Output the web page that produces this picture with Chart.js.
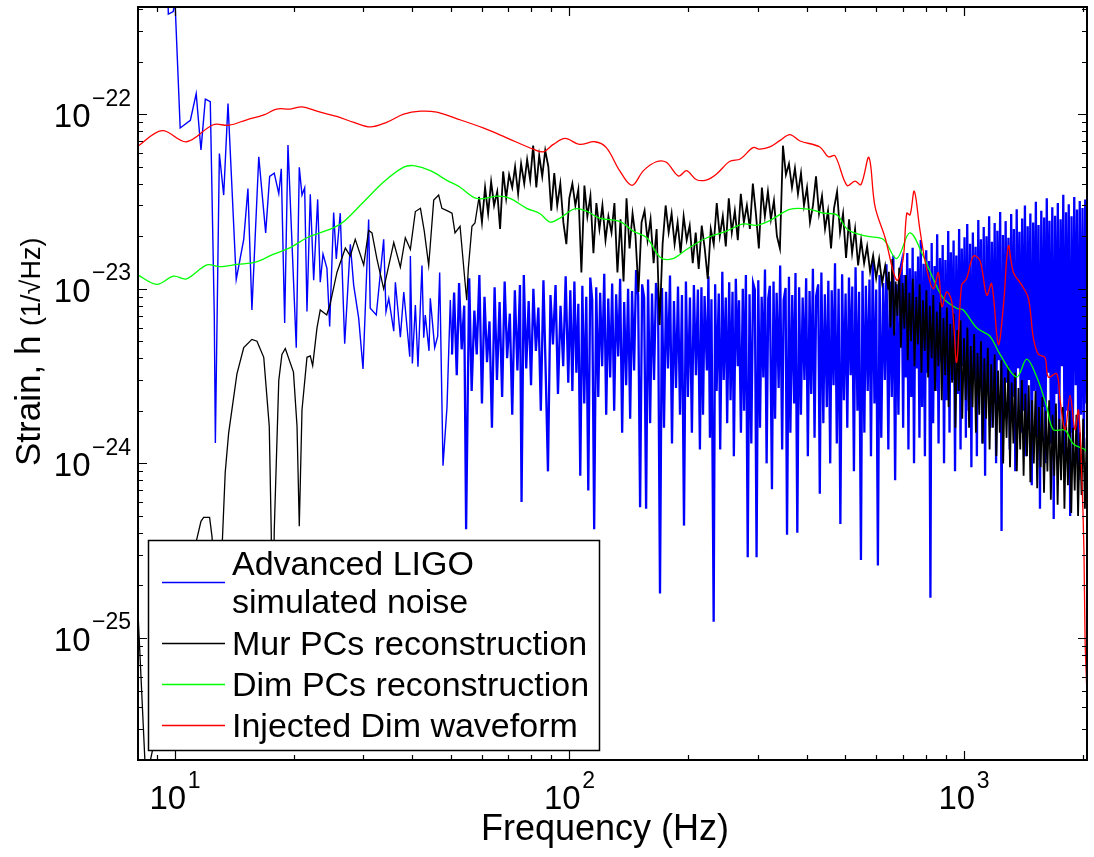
<!DOCTYPE html>
<html>
<head>
<meta charset="utf-8">
<title>Strain spectrum</title>
<script src="https://cdn.jsdelivr.net/npm/chart.js@4.4.1/dist/chart.umd.min.js"></script>
<style>
  body { margin: 0; background: #fff; }
  #wrap { width: 1094px; height: 857px; }
</style>
</head>
<body>
<div id="wrap"><canvas id="psd" width="1094" height="857"></canvas></div>
<script>
// ==========================================
// 1. DATA  (frequency in Hz, strain in units of 1e-24 / sqrt(Hz))
// ==========================================
const STRAIN_UNIT = 1e-24;
const X_MIN = 8.06, X_MAX = 2050;
const Y_MIN = 2.34e-26, Y_MAX = 4.11e-22;
const xTickExps = [1, 2, 3];
const yTickExps = [-25, -24, -23, -22];
const seriesNames = [
  ['Advanced LIGO', 'simulated noise'],
  ['Mur PCs reconstruction'],
  ['Dim PCs reconstruction'],
  ['Injected Dim waveform']
];

// Advanced LIGO simulated noise
const noisePts = [
  [8.0,700],[9.0,900],[9.55,800],[9.62,374],[9.90,387],[10.0,450],[10.31,83.4],[10.94,92.1],[11.32,131],[11.64,62.4],
  [11.94,122],[12.29,118],[12.58,7.09],[12.66,1.31],[12.96,59.5],[13.29,34.4],[13.63,115],[14.30,11.3],[14.94,19.2],[15.31,37.5],
  [15.67,7.57],[16.31,57.0],[16.98,20.9],[17.38,44.0],[17.85,45.9],[18.33,35.1],[18.60,48.6],[18.97,6.37],[19.34,66.6],[20.30,4.60],
  [20.66,49.6],[20.99,34.4],[21.32,37.9],[21.61,7.40],[22.03,34.8],[22.47,11.2],[23.00,32.5],[23.35,10.9],[23.73,15.8],[24.28,13.1],
  [24.67,6.09],[25.25,27.3],[25.64,14.8],[26.24,27.1],[26.93,4.85],[27.83,18.0],[28.38,10.5],[29.22,6.79],[29.97,3.47],[30.97,24.9],
  [31.26,7.73],[32.38,7.08],[33.81,19.2],[34.27,7.40],[34.83,8.81],[35.86,5.71],[36.20,10.9],[37.27,5.28],[38.02,9.59],[39.37,4.08],
  [39.51,15.4],[39.97,3.73],[40.68,8.07],[41.30,3.58],[42.28,13.6],[42.71,5.24],[43.10,7.08],[44.05,4.41],[44.38,8.81],[45.54,4.60],
  [46.34,5.35],[46.88,12.4],[47.8,0.97],[48.93,2.11],[49.88,8.61],[50.38,4.21],
  [51.0,9.5],[51.8,3.2],[52.5,10.8],[53.3,4.5],[54.1,8.0],[54.7,0.42],[55.7,11.5],[56.5,2.6],[57.4,7.5],[58.2,4.2],
  [59.1,12.0],[60.0,2.2],[60.9,9.0],[61.8,3.8],[62.7,6.5],[63.6,1.6],[64.6,10.2],[65.5,3.0],[66.5,8.4],[67.5,2.4],
  [68.5,11.0],[69.5,4.0],[70.6,7.2],[71.6,1.9],[72.7,9.8],[73.8,3.4],[74.9,10.5],[75.6,0.6],[76.6,12.0],[77.7,3.5],
  [78.8,8.5],[79.9,2.8],[81.0,10.0],[82.2,4.4],[83.4,7.8],[84.6,2.0],[85.9,11.2],[87.1,3.1],[88.2,0.9],[89.5,9.2],
  [90.8,4.8],[92.2,10.5],[93.5,2.5],[94.9,8.0],[96.4,3.6],[97.8,11.8],[99.3,2.9],
  [100.5,9.8],[101.7,2.6],[102.9,11.0],[104.1,3.3],[105.3,8.2],[106.5,0.85],[107.8,10.4],[109.0,2.2],[110.3,9.0],[111.6,0.7],
  [112.9,11.6],[114.2,8.6],[115.5,0.42],[116.9,10.2],[118.3,2.4],[119.6,9.5],[121.0,3.6],[122.5,12.2],[123.9,1.9],[125.4,8.8],
  [126.8,3.1],[128.3,10.7],[129.8,2.0],[131.3,9.3],[132.9,4.1],[134.4,11.4],[136.0,1.5],[137.6,8.4],[139.2,2.8],[140.8,10.0],
  [142.5,1.8],[144.1,9.7],[145.8,3.4],[147.5,12.8],[149.3,9.1],[151.0,0.56],[152.8,10.6],[154.6,8.9],[156.4,0.55],[158.2,11.3],
  [160.1,1.7],[161.9,9.4],[163.8,3.0],[165.7,10.8],[167.7,8.7],[169.6,0.18],[171.6,10.1],[173.6,1.6],[175.7,9.6],[177.7,3.5],
  [179.8,11.9],[181.9,1.3],[184.0,8.5],[186.2,2.7],[188.4,10.3],[190.6,1.9],[192.8,9.2],[195.1,0.44],[197.3,11.0],[199.6,2.4],
  [202.0,8.9],[204.3,1.5],[206.7,10.5],[209.2,3.2],[211.6,9.9],[214.1,1.2],
  [216,10.2],[218,1.9],[220,9.1],[223,3.4],[225,11.8],[227,1.4],[229,8.7],[232,0.124],[234,10.6],[236,2.6],
  [239,9.4],[241,1.2],[244,12.5],[246,3.0],[249,8.9],[251,1.7],[254,10.9],[256,2.3],[259,9.6],[261,1.1],
  [264,11.4],[267,3.6],[269,8.6],[272,1.5],[275,10.0],[277,2.0],[280,12.0],[283,0.29],[286,9.3],[289,1.3],
  [292,10.8],[295,9.9],[298,0.29],[301,11.2],[304,1.6],[307,9.0],[310,3.1],[313,12.9],[316,1.0],[319,8.8],
  [322,10.4],[326,0.71],[329,11.0],[332,1.8],[335,9.5],[339,2.7],[342,13.6],[346,1.2],[349,8.6],[353,10.1],
  [356,0.39],[360,11.7],[363,1.5],[367,9.2],[371,2.2],[374,12.3],[378,0.40],[382,10.2],[386,1.9],[390,8.9],
  [394,3.0],[398,11.5],[402,1.1],[406,9.7],[410,2.5],[414,13.0],[418,1.4],[422,9.1],[427,10.6],[431,0.67],
  [435,12.4],[440,1.7],[444,9.3],[449,2.1],[453,11.1],[458,1.0],[462,9.8],[467,2.8],[471,14.0],[476,1.3],
  [481,10.0],[486,0.45],[491,12.1],[496,2.3],[501,9.4],[506,1.6],[511,11.6],[516,3.2],[521,10.3],[526,0.9],
  [531,13.3],[537,2.0],[542,9.6],[548,0.28],[553,12.7],[559,1.5],[564,10.4],[570,2.6],[576,11.3],[581,1.1],
  [587,14.5],[593,2.2],[599,9.9],[605,0.26],[611,12.0],[617,1.4],[624,10.8],[630,3.0],[636,13.8],[643,1.2],
  [649,11.0],[656,2.4],[662,15.5],[669,0.8],[675,10.6],[682,1.9],[689,12.9],
  [695,14.2],[701,1.6],[706,12.0],[712,3.1],[718,16.0],[723,1.2],[729,13.1],[735,2.4],[741,17.2],[747,1.0],
  [753,12.6],[759,3.5],[765,15.3],[771,1.4],[777,19.0],[783,2.1],[790,13.9],[796,1.1],[802,16.6],[809,3.3],
  [815,14.4],[822,0.17],[828,18.3],[835,1.7],[842,13.5],[848,2.6],[855,20.5],[862,1.3],[869,15.0],[876,3.8],
  [883,17.8],[890,1.0],[897,14.6],[904,2.3],[912,21.4],[919,1.5],[926,16.2],[934,3.0],[941,18.9],[949,0.9],
  [956,15.5],[964,2.5],[972,22.0],[980,1.2],[987,17.0],[995,3.6],[1003,19.7],[1011,1.4],[1019,23.5],[1028,2.0],
  [1036,18.1],[1044,0.95],[1053,21.0],[1061,3.2],[1070,17.4],[1078,1.1],[1087,24.8],[1095,2.7],[1104,19.2],[1113,1.3],
  [1122,22.6],[1131,0.85],[1140,20.0],[1149,3.4],[1158,26.0],[1168,1.6],[1177,18.6],[1187,2.2],[1196,23.8],[1206,1.0],
  [1215,21.5],[1225,3.9],[1235,27.5],[1245,0.41],[1255,20.3],[1265,1.8],[1275,24.4],[1285,2.9],[1296,19.6],[1306,1.2],
  [1317,26.8],[1327,2.4],[1338,22.0],[1349,0.9],[1360,28.5],[1371,3.5],[1382,21.2],[1393,1.5],[1404,25.3],[1415,2.0],
  [1427,30.0],[1438,1.1],[1450,22.8],[1461,3.0],[1473,27.0],[1485,0.75],[1497,24.0],[1509,2.6],[1521,31.5],[1533,1.4],
  [1545,23.2],[1558,0.55],[1570,28.0],[1583,2.1],[1596,25.6],[1608,1.0],[1621,33.0],[1634,3.3],[1647,24.5],[1661,1.3],
  [1674,29.3],[1688,0.48],[1701,26.2],[1715,2.5],[1729,31.0],[1743,1.2],[1757,25.0],[1771,3.6],[1785,34.5],[1799,0.9],
  [1814,27.4],[1828,2.0],[1843,30.5],[1858,0.5],[1873,26.0],[1888,1.5],[1903,33.5],[1919,2.8],[1934,28.4],[1950,0.8],
  [1965,31.8],[1981,1.9],[1997,29.0],[2013,1.2],[2029,32.5],[2045,2.2]
];

// Mur PCs reconstruction
const murPts = [
  [8.0,0.20],[8.44,0.015],[9.0,0.03],[10.5,0.15],[11.3,0.35],[11.64,0.466],[11.82,0.49],[12.24,0.49],[12.41,0.383],[12.7,0.19],
  [13.15,0.31],[13.41,0.89],[13.68,1.49],[14.36,3.26],[14.94,4.60],[15.67,5.13],[16.14,5.01],[16.79,4.05],[17.34,1.63],[17.54,0.41],
  [17.7,0.05],[17.85,0.41],[18.33,2.99],[18.67,4.21],[19.04,4.55],[19.97,3.33],[20.39,1.63],[20.66,0.436],[20.99,2.02],[21.61,4.05],
  [22.03,4.13],[22.34,3.63],[22.91,5.97],[23.35,7.57],[24.25,7.08],[24.7,8.07],[25.74,12.4],[27.03,17.1],[27.83,15.4],[28.64,19.2],
  [30.09,13.7],[30.97,21.6],[31.58,20.9],[32.51,14.8],[33.81,10.0],[35.86,18.4],[37.27,13.3],[38.36,19.6],[39.51,16.8],[40.68,27.7],
  [41.9,28.9],[42.85,21.4],[43.97,13.6],[45.28,32.2],[46.6,34.4],[47.5,28.9],[48.93,28.0],[50.38,27.1],[51.27,20.9],[52.8,22.8],
  [54.36,10.9],[54.9,8.6],[55.4,13.0],[56.6,22.8],[57.6,23.8],
  [59.0,33.6],[60.0,24.0],[61.1,38.0],[62.2,27.0],[63.3,41.0],[64.4,30.0],[65.6,36.0],[66.7,22.0],[67.9,47.0],[69.1,33.0],
  [70.3,45.0],[71.6,38.0],[72.8,50.0],[74.1,35.0],[75.4,52.0],[76.8,40.0],[78.1,55.0],[79.5,42.0],[80.9,66.0],[82.4,38.0],
  [83.8,58.0],[85.3,44.0],[86.8,62.0],[88.4,50.0],[89.9,28.0],[91.5,46.0],[93.1,30.0],[94.8,40.0],[96.5,24.0],[98.2,18.0],
  [99.9,33.0],[101.7,40.0],[103.5,30.0],[105.3,37.0],[107.2,12.4],[109.1,39.0],[111.0,26.0],[113.0,34.0],[115.0,16.0],[117.0,31.0],
  [119.1,22.0],[121.2,30.0],[123.4,19.0],[125.5,26.0],[127.8,21.0],[130.0,31.0],[132.3,12.4],[134.7,25.0],[137.1,11.0],[139.5,33.0],
  [142.0,17.0],[144.5,27.0],[147.0,20.0],[149.6,9.6],[152.3,24.0],[155.0,28.0],[157.7,19.0],[160.5,25.0],[163.4,14.0],[166.3,22.0],
  [169.2,6.2],[172.2,18.0],[175.3,30.0],[178.4,21.0],[181.5,27.0],[184.7,18.0],[188.0,24.0],[191.3,16.0],[194.7,26.0],[198.2,19.0],
  [201.7,23.0],[205.3,14.0],[208.9,21.0],[212.6,13.0],[216.4,23.0],[220.2,17.0],[224.1,11.4],[228.1,22.0],[232.1,18.0],[236.2,31.0],
  [240.4,20.0],[244.7,26.0],[249.0,17.5],[253.4,33.0],[257.9,21.0],[262.5,28.0],[267.1,19.0],[271.8,35.0],[276.7,24.0],[281.6,30.0],
  [286.6,22.0],[291.6,40.0],[296.8,27.0],[302.0,17.0],[307.4,38.0],[312.8,26.0],[318.4,36.0],[324.0,25.0],[329.8,32.0],[335.6,20.0],
  [341.5,17.0],[347.6,66.0],[353.7,45.0],[360.0,52.0],[366.4,38.0],[372.8,49.0],[379.4,35.0],[386.2,46.0],[393.0,30.0],[400.0,38.0],
  [407.0,24.0],[414.2,30.0],[421.6,44.0],[429.0,27.0],[436.6,34.0],[444.4,22.0],[452.2,28.0],[460.2,17.0],[468.4,29.0],[476.7,36.0],
  [485.1,21.0],[493.7,27.0],[502.4,15.0],[511.3,25.0],[520.4,16.0],[529.6,22.0],[539.0,13.6],[548.5,19.0],[558.2,14.0],[568.1,17.5],
  [578.2,12.5],[588.4,15.5],[598.8,11.5],[609.4,14.8],[620.2,10.8],[631.2,13.5],[642.4,10.0],
  [645,12.5],[651,6.0],[658,14.8],[665,5.4],[671,11.0],[678,7.0],[685,13.2],[692,4.6],[699,10.8],[706,5.9],
  [713,12.0],[720,3.9],[727,9.5],[734,5.0],[742,11.4],[749,3.6],[757,9.0],[764,4.8],[772,10.6],[780,3.3],
  [787,8.6],[795,4.4],[803,9.8],[811,3.1],[819,8.0],[828,4.0],[836,9.2],[844,2.6],[853,7.4],[861,3.6],
  [870,8.4],[878,2.3],[887,6.8],[896,3.2],[905,7.8],[914,2.1],[923,6.3],[933,2.9],[942,7.2],[951,1.6],
  [961,5.8],[970,2.6],[980,6.6],[990,1.8],[1000,5.2],[1010,2.3],[1020,6.0],[1030,1.6],[1040,4.7],[1051,2.1],
  [1061,5.5],[1072,1.5],[1082,4.3],[1093,1.9],[1104,5.0],[1115,1.3],[1126,4.0],[1138,1.8],[1149,4.6],[1161,1.2],
  [1172,3.7],[1184,1.6],[1196,4.2],[1208,1.1],[1220,3.4],[1232,1.5],[1244,3.9],[1257,1.0],[1269,3.1],[1282,1.4],
  [1295,3.6],[1308,0.95],[1321,2.9],[1334,1.3],[1347,3.3],[1361,0.9],[1374,2.7],[1388,1.2],[1402,3.0],[1416,0.85],
  [1430,2.5],[1444,1.1],[1459,2.8],[1473,0.78],[1488,2.3],[1503,1.0],[1518,2.6],[1533,0.72],[1548,2.1],[1564,0.95],
  [1580,2.4],[1595,0.68],[1611,2.0],[1627,0.9],[1644,2.3],[1660,0.62],[1677,1.9],[1693,0.85],[1710,2.2],[1727,0.58],
  [1745,1.8],[1762,0.8],[1780,2.1],[1797,0.55],[1815,1.7],[1834,0.75],[1852,2.0],[1870,0.52],[1889,1.6],[1908,0.7],
  [1927,1.9],[1946,0.5],[1966,1.5],[1986,0.66],[2005,1.8],[2025,0.55],[2046,1.4]
];

// Dim PCs reconstruction
const dimPts = [
  [8.01,12.1],[9.0,10.6],[9.92,11.8],[10.7,11.4],[12.05,13.7],[13.0,13.4],[14.4,13.8],[16.0,14.2],[17.8,15.8],[19.6,17.2],
  [21.6,19.6],[23.3,20.9],[25.2,22.3],[26.8,24.3],[30.1,31.5],[33.8,40.9],[38.0,49.7],[40.3,50.7],[44.4,47.5],[48.9,41.8],
  [52.7,38.3],[58.2,32.9],[66.0,33.9],[70.7,32.9],[77.9,28.9],[84.2,26.9],[89.3,24.1],[94.6,25.4],[103,28.7],[111,27.7],
  [119,25.4],[134,24.3],[145,21.4],[157,19.6],[170,15.1],[183,14.9],[198,16.8],[223,19.6],[250,21.4],[276,23.5],
  [298,23.1],[322,24.6],[362,28.5],[407,28.5],[440,27.1],[476,26.5],[508,21.8],[567,20.0],[624,19.2],[675,14.9],
  [729,20.9],[788,15.4],[836,11.4],[887,8.81],[958,7.73],[996,7.56],[1077,5.97],[1163,5.35],[1233,4.22],[1360,3.12],
  [1442,3.95],[1529,3.12],[1621,2.11],[1684,1.56],[1804,1.55],[1893,1.29],[2027,1.20],[2048,1.15]
];

// Injected Dim waveform
const injPts = [
  [8.01,64.9],[9.27,80.5],[10.7,69.5],[12.5,87.0],[13.7,86.4],[15.2,92.9],[16.8,99],[18.1,107],[19.6,107],[21.0,110],
  [22.9,104],[25.7,97],[28.4,89.8],[31.3,84.5],[34.4,89.8],[38.0,100],[41.9,104],[46.1,102.6],[51.9,94.1],[60.4,83.4],
  [69.3,73.2],[81.0,63.0],[85.9,60.9],[91.0,67.1],[97.5,72.6],[106,67.1],[116,69.5],[124,64.3],[134,47.5],[144,39.1],
  [154,47.5],[166,53.4],[176,53.0],[189,44.2],[198,47.5],[210,42.1],[223,42.1],[236,45.5],[255,53.7],[271,55.4],
  [292,64.3],[304,63.0],[322,64.9],[342,70.8],[362,76.4],[384,70.2],[431,64.9],[453,57.0],[471,57.8],[505,39.1],
  [529,41.4],[548,39.5],[574,56.5],[595,29.5],[631,19.6],[675,11.2],[701,14.8],[716,27.1],[730,26.5],[748,36.2],
  [773,21.8],[804,13.0],[836,10.0],[861,12.4],[879,7.89],[904,9.59],[931,8.43],[958,3.79],[986,10.5],[1015,11.4],
  [1056,15.4],[1098,14.5],[1142,9.18],[1175,10.7],[1222,4.81],[1259,8.07],[1296,17.6],[1334,12.4],[1401,10.5],[1456,8.81],
  [1499,5.24],[1543,4.22],[1604,4.04],[1636,3.12],[1718,3.26],[1752,2.30],[1804,1.56],[1857,2.45],[1911,1.56],[1950,2.02],
  [1988,0.853],[2014,0.315],[2027,0.098],[2048,0.05]
];

// ==========================================
// 2. HELPERS
// ==========================================
const FONT = '"Liberation Sans", Arial, Helvetica, sans-serif';
const toPoints = pts => pts.map(p => ({ x: p[0], y: p[1] * STRAIN_UNIT }));
const expText = e => (e < 0 ? '\u2212' + Math.abs(e) : String(e));

function drawPower(ctx, exp, x, y, mode) {
  const big = '33px ' + FONT, small = '23px ' + FONT;
  ctx.font = big;  const w10 = ctx.measureText('10').width;
  ctx.font = small; const wExp = ctx.measureText(expText(exp)).width;
  const total = w10 + 1.5 + wExp;
  let left, base10, baseExp;
  if (mode === 'x') { left = x - total / 2; base10 = 809; baseExp = 788; }
  else { left = 131 - total; base10 = y + 13; baseExp = y - 8.5; }
  ctx.textAlign = 'left'; ctx.textBaseline = 'alphabetic';
  ctx.font = big;  ctx.fillText('10', left, base10);
  ctx.font = small; ctx.fillText(expText(exp), left + w10 + 1.5, baseExp);
}

// ==========================================
// 3. MATLAB-STYLE AXES + LEGEND PLUGIN
// ==========================================
const matlabAxes = {
  id: 'matlabAxes',
  afterDraw(chart) {
    const ctx = chart.ctx, a = chart.chartArea;
    const xs = chart.scales.x, ys = chart.scales.y;
    ctx.save();
    ctx.fillStyle = '#000';
    ctx.strokeStyle = '#000';

    // inward ticks on all four sides
    ctx.lineWidth = 1.2;
    ctx.beginPath();
    for (let e = 0; e <= 3; e++) {
      for (let k = 1; k <= 9; k++) {
        const v = k * Math.pow(10, e);
        if (v < X_MIN || v > X_MAX) continue;
        const px = Math.round(xs.getPixelForValue(v)) + 0.5;
        const len = k === 1 ? 9 : 5;
        ctx.moveTo(px, a.bottom); ctx.lineTo(px, a.bottom - len);
        ctx.moveTo(px, a.top); ctx.lineTo(px, a.top + len);
      }
    }
    for (let e = -26; e <= -22; e++) {
      for (let k = 1; k <= 9; k++) {
        const v = k * Math.pow(10, e);
        if (v < Y_MIN || v > Y_MAX) continue;
        const py = Math.round(ys.getPixelForValue(v)) + 0.5;
        const len = k === 1 ? 9 : 5;
        ctx.moveTo(a.left, py); ctx.lineTo(a.left + len, py);
        ctx.moveTo(a.right, py); ctx.lineTo(a.right - len, py);
      }
    }
    ctx.stroke();

    // box
    ctx.lineWidth = 2;
    ctx.strokeRect(a.left, a.top, a.right - a.left, a.bottom - a.top);

    // tick labels
    xTickExps.forEach(e => drawPower(ctx, e, xs.getPixelForValue(Math.pow(10, e)), 0, 'x'));
    yTickExps.forEach(e => drawPower(ctx, e, 0, ys.getPixelForValue(Math.pow(10, e)), 'y'));

    // axis titles
    ctx.font = '36px ' + FONT;
    ctx.textAlign = 'center';
    ctx.fillText('Frequency (Hz)', 605, 840);

    ctx.save();
    ctx.translate(40, 466);
    ctx.rotate(-Math.PI / 2);
    ctx.textAlign = 'left';
    ctx.font = '35px ' + FONT;
    ctx.fillText('Strain, h', 0, 0);
    const wMain = ctx.measureText('Strain, h ').width;
    ctx.font = '27px ' + FONT;
    ctx.fillText('(1/\u221AHz)', wMain, 0);
    ctx.restore();

    // legend
    const colors = chart.data.datasets.map(d => d.borderColor);
    const order = [3, 2, 1, 0]; // noise, Mur, Dim, injected
    ctx.fillStyle = '#fff';
    ctx.fillRect(148.5, 540.5, 451, 210);
    ctx.lineWidth = 1.5;
    ctx.strokeRect(148.5, 540.5, 451, 210);
    const rows = [
      { line: 582.5, base: [575, 613] },
      { line: 643.5, base: [655] },
      { line: 684.5, base: [696] },
      { line: 725.5, base: [737] }
    ];
    ctx.font = '34px ' + FONT;
    ctx.textAlign = 'left';
    rows.forEach((r, i) => {
      ctx.strokeStyle = colors[order[i]];
      ctx.lineWidth = 1.3;
      ctx.beginPath();
      ctx.moveTo(162, r.line); ctx.lineTo(225, r.line);
      ctx.stroke();
      ctx.fillStyle = '#000';
      seriesNames[i].forEach((t, j) => ctx.fillText(t, 232, r.base[j]));
    });
    ctx.restore();
  }
};

// ==========================================
// 4. CHART
// ==========================================
const lineBase = { pointRadius: 0, fill: false, clip: 0 };
// dense (FFT-bin) parts of the spectra render as a solid band, so draw them a bit heavier
const denseWidth = (fromHz, thin, thick) => ctx => (ctx.p0.parsed.x >= fromHz ? thick : thin);

new Chart(document.getElementById('psd').getContext('2d'), {
  type: 'line',
  data: {
    datasets: [
      { ...lineBase, label: seriesNames[3][0], data: toPoints(injPts), borderColor: '#ff0000', borderWidth: 1.3, tension: 0.35, order: 1 },
      { ...lineBase, label: seriesNames[2][0], data: toPoints(dimPts), borderColor: '#00ff00', borderWidth: 1.3, tension: 0.35, order: 2 },
      { ...lineBase, label: seriesNames[1][0], data: toPoints(murPts), borderColor: '#000000', borderWidth: 1.3, tension: 0, order: 3,
        segment: { borderWidth: denseWidth(58, 1.3, 1.8) } },
      { ...lineBase, label: seriesNames[0].join(' '), data: toPoints(noisePts), borderColor: '#0000ff', borderWidth: 1.4, tension: 0, order: 4,
        segment: { borderWidth: denseWidth(50, 1.4, 2.3) } }
    ]
  },
  options: {
    responsive: false,
    animation: false,
    events: [],
    layout: { padding: { left: 138, right: 7, top: 7, bottom: 97 } },
    scales: {
      x: { type: 'logarithmic', min: X_MIN, max: X_MAX, display: false },
      y: { type: 'logarithmic', min: Y_MIN, max: Y_MAX, display: false }
    },
    plugins: { legend: { display: false }, tooltip: { enabled: false } }
  },
  plugins: [matlabAxes]
});
</script>
</body>
</html>
